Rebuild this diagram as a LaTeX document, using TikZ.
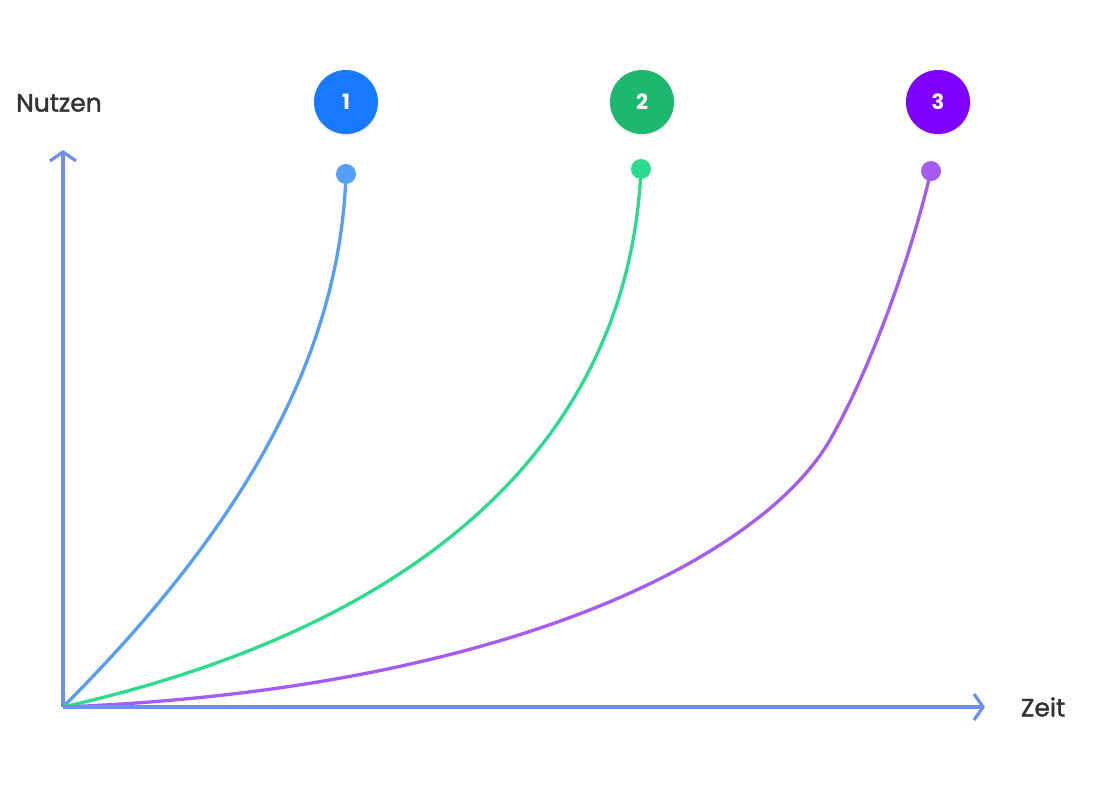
\documentclass[tikz,border=0pt]{standalone}
\usepackage{fontspec}
\setmainfont{Poppins}
\newfontfamily\lblfont[FakeBold=1.5]{Poppins}
\usetikzlibrary{arrows.meta,shadows}
\definecolor{axis}{HTML}{6F8EF5}
\definecolor{b1}{HTML}{1779FF}\definecolor{b2}{HTML}{1DB86E}\definecolor{b3}{HTML}{7F00FF}
\definecolor{c1}{HTML}{579EF5}\definecolor{c2}{HTML}{2BDC8C}\definecolor{c3}{HTML}{A45CF5}
\tikzset{
 badge/.style={circle,minimum size=64pt,inner sep=0pt,text=white,font=\bfseries\fontsize{21}{24}\selectfont,drop shadow={opacity=0.15,shadow xshift=0pt,shadow yshift=-2pt}},
 enddot/.style={circle,minimum size=20pt,inner sep=0pt},
 axisline/.style={draw=axis,line width=3.2pt,-{Straight Barb[length=9pt,width=26pt,line width=3.2pt]}},
 curve/.style={line width=3.3pt},
 lbl/.style={font=\lblfont\fontsize{25}{28}\selectfont,text=black!80}
}
\begin{document}
\begin{tikzpicture}[x=1pt,y=-1pt]
\useasboundingbox (0,0) rectangle (1120,800);
\coordinate (O) at (63,707);
\coordinate (Y) at (63,150);
\coordinate (X) at (985,707);
\draw[curve,c1] (O) .. controls (250,520) and (340,350) .. (346,174) coordinate (e1);
\draw[curve,c2] (O) .. controls (450,620) and (630,420) .. (641,169) coordinate (e2);
\draw[curve,c3] (O) .. controls (500,690) and (760,560) .. (830,440) .. controls (870,370) and (910,260) .. (931,171) coordinate (e3);
\draw[axisline] (O) -- (Y);
\draw[axisline] (O) -- (X);
\node[enddot,fill=c1] (d1) at (e1) {};
\node[enddot,fill=c2] (d2) at (e2) {};
\node[enddot,fill=c3] (d3) at (e3) {};
\node[badge,fill=b1] (n1) at (346,102) {1};
\node[badge,fill=b2] (n2) at (642,102) {2};
\node[badge,fill=b3] (n3) at (938,102) {3};
\node[lbl] (ny) at (59,103) {Nutzen};
\node[lbl] (nx) at (1043,707) {Zeit};
\end{tikzpicture}
\end{document}
